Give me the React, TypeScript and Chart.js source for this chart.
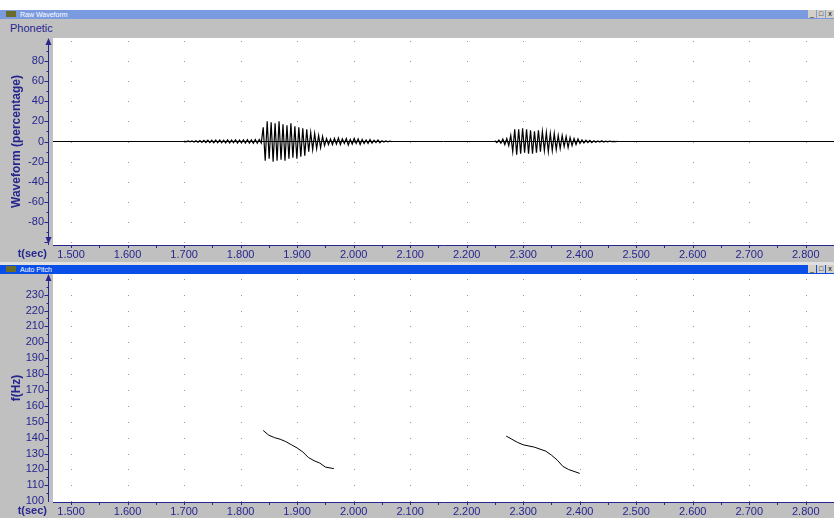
import React, { useEffect, useRef } from "react";
import { Chart, registerables } from "chart.js";
Chart.register(...registerables);

const X_MIN = 1.468;
const X_MAX = 2.85;
const X_TICKS = [1.5, 1.6, 1.7, 1.8, 1.9, 2.0, 2.1, 2.2, 2.3, 2.4, 2.5, 2.6, 2.7, 2.8];
const WAVE_TICKS = [-80, -60, -40, -20, 0, 20, 40, 60, 80];
const PITCH_TICKS = [100, 110, 120, 130, 140, 150, 160, 170, 180, 190, 200, 210, 220, 230];
const SEG1_START = 1.70;
const SEG2_START = 2.25;
const STEP = 0.0035;
const SEG1_VALUES = [
  0.3,-0.3,0.5,-0.4,0.6,-0.5,0.8,-0.7,1,-0.9,1.2,-1,1.3,-1.1,1.2,-1.2,1.4,-1.3,1.5,-1.2,1.3,-1.4,1.6,-1.5,1.4,-1.3,1.7,-1.6,1.5,-1.4,1.6,-1.5,1.8,-1.6,1.5,-1.7,1.9,-1.8,2,-1.5,
  14,-19,20,-17,19,-20,18,-19,20,
  -18,17,-19,16,-17,18,-16,15,-17,14,-15,13,-14,12,
  -10,9,-8,8,-7,6,-6,5,-4,
  3,-3,2.5,-3,3,-2.5,3.5,-3,2.5,-2,3,-3.5,2,-2.5,3,-2,2.5,-3,2,-2,1.5,-2,2,-1.5,1.2,-1,1.5,-1.2,0.8,-0.6,0.5,-0.4,0.3,-0.2,
];
const SEG2_VALUES = [
  0.8,-1,1.5,-1.8,2.5,-3,3,-4,6,
  -10,12,-13,12,-12,13,-11,12,-12,
  11,-12,10,-11,11,-10,10,-9,9,-10,8,-9,8,-8,
  6,-7,6,-5,5,-6,4,-4,3,-3,2.5,
  -2,1.5,-1.5,1.2,-1,1,-1.2,0.8,-0.8,0.6,-0.5,0.8,-0.6,0.4,-0.3,0.3,-0.2,0.2,-0.1,0.1,
];
const PITCH1_T = [1.84,1.85,1.86,1.87,1.88,1.89,1.90,1.91,1.92,1.93,1.94,1.95,1.965];
const PITCH1_F = [144.5,141.5,140,139,137.5,135.5,133.5,131,127.5,125.5,124,121.5,120.5];
const PITCH2_T = [2.27,2.28,2.29,2.30,2.32,2.34,2.35,2.36,2.37,2.38,2.40];
const PITCH2_F = [141,139,137,135.5,134,131.5,129,126,122,120,117.5];

const NAVY = "#26268f";
const GRAY = "#c0c0c0";

const toPts = (start: number, vals: number[]) => vals.map((v, i) => ({ x: start + i * STEP, y: v }));

function chromePlugin(arrowBottom: boolean, step: number) {
  return {
    id: "chrome",
    beforeDraw(c: any) {
      const { ctx, chartArea: a, width, height } = c;
      ctx.save();
      ctx.fillStyle = GRAY;
      ctx.fillRect(0, 0, width, height);
      ctx.fillStyle = "#fff";
      ctx.fillRect(a.left, a.top, a.right - a.left, a.bottom - a.top);
      const xs = c.scales.x, ys = c.scales.y;
      ctx.fillStyle = "#999";
      for (const t of X_TICKS) {
        const px = Math.round(xs.getPixelForValue(t));
        for (let v = Math.ceil(ys.min / step) * step; v <= ys.max; v += step) {
          const py = Math.round(ys.getPixelForValue(v));
          if (py > a.top && py < a.bottom) ctx.fillRect(px, py, 1, 1);
        }
      }
      ctx.restore();
    },
    afterDraw(c: any) {
      const { ctx, chartArea: a } = c;
      const xs = c.scales.x, ys = c.scales.y;
      ctx.save();
      ctx.strokeStyle = NAVY;
      ctx.fillStyle = NAVY;
      ctx.lineWidth = 1;
      const ax = a.left - 4.5;
      ctx.beginPath();
      ctx.moveTo(ax, a.top + 2);
      ctx.lineTo(ax, a.bottom);
      ctx.stroke();
      ctx.beginPath();
      ctx.moveTo(ax, a.top); ctx.lineTo(ax - 3, a.top + 7); ctx.lineTo(ax + 3, a.top + 7); ctx.fill();
      if (arrowBottom) {
        ctx.beginPath();
        ctx.moveTo(ax, a.bottom - 1); ctx.lineTo(ax - 3, a.bottom - 8); ctx.lineTo(ax + 3, a.bottom - 8); ctx.fill();
      }
      const half = step / 2;
      for (let v = Math.ceil(ys.min / half) * half; v <= ys.max; v += half) {
        const py = Math.round(ys.getPixelForValue(v)) + 0.5;
        if (py < a.top + 8 || py > a.bottom - 2) continue;
        const major = Math.round(v / half) % 2 === 0;
        ctx.beginPath(); ctx.moveTo(ax - (major ? 4 : 2), py); ctx.lineTo(ax, py); ctx.stroke();
      }
      ctx.beginPath(); ctx.moveTo(a.left, a.bottom + 0.5); ctx.lineTo(a.right, a.bottom + 0.5); ctx.stroke();
      for (let t = 1.5; t < X_MAX; t += 0.05) {
        const px = Math.round(xs.getPixelForValue(t)) + 0.5;
        ctx.beginPath(); ctx.moveTo(px, a.bottom); ctx.lineTo(px, a.bottom + 3); ctx.stroke();
      }
      ctx.font = "bold 11px 'Liberation Sans', Arial";
      ctx.textAlign = "right";
      ctx.textBaseline = "middle";
      ctx.fillText("t(sec)", 47, a.bottom + 9);
      ctx.restore();
    },
  };
}

function makeOptions(yMin: number, yMax: number, yTicks: number[], title: string, xh: number): any {
  return {
    animation: false,
    responsive: false,
    events: [],
    layout: { padding: { top: 0, right: 0, left: 0, bottom: 0 } },
    plugins: { legend: { display: false }, tooltip: { enabled: false } },
    scales: {
      x: {
        type: "linear", min: X_MIN, max: X_MAX,
        grid: { display: false, drawTicks: false }, border: { display: false },
        ticks: {
          color: NAVY, padding: 3, maxRotation: 0, autoSkip: false,
          font: { family: "'Liberation Sans', Arial", size: 11 },
          callback: (v: number) => v.toFixed(3),
        },
        afterBuildTicks: (s: any) => { s.ticks = X_TICKS.map((v) => ({ value: v })); },
        afterFit: (s: any) => { s.height = xh; s.paddingLeft = 0; s.paddingRight = 0; },
      },
      y: {
        min: yMin, max: yMax,
        grid: { display: false, drawTicks: false }, border: { display: false },
        ticks: {
          color: NAVY, padding: 9,
          font: { family: "'Liberation Sans', Arial", size: 11 },
          callback: (v: number) => String(v),
        },
        afterBuildTicks: (s: any) => { s.ticks = yTicks.map((v) => ({ value: v })); },
        title: { display: true, text: title, color: NAVY, padding: { top: 9, bottom: 0 }, font: { family: "'Liberation Sans', Arial", size: 12, weight: "bold" } },
        afterFit: (s: any) => { s.width = 53; s.paddingTop = 0; s.paddingBottom = 0; },
      },
    },
  };
}

function TitleBar({ text, color, top }: { text: string; color: string; top: number }) {
  return (
    <div style={{ position: "absolute", left: 0, top, width: 834, height: 9, background: color, fontFamily: "'Liberation Sans', Arial", fontSize: 7, color: "#fff", lineHeight: "9px" }}>
      <span style={{ display: "inline-block", width: 10, height: 6, background: "#6b6b2a", margin: "1px 4px 0 6px", verticalAlign: "top" }} />
      {text}
      <div style={{ position: "absolute", right: 0, top: 0, display: "flex", gap: 1 }}>
        {["_", "□", "x"].map((s) => (
          <span key={s} style={{ width: 8, height: 8, background: "#d4d0c8", color: "#000", fontSize: 7, lineHeight: "8px", textAlign: "center" }}>{s}</span>
        ))}
      </div>
    </div>
  );
}

export default function App() {
  const r1 = useRef<HTMLCanvasElement>(null);
  const r2 = useRef<HTMLCanvasElement>(null);
  useEffect(() => {
    document.body.style.margin = "0";
    const c1 = new Chart(r1.current!, {
      type: "line",
      data: {
        datasets: [
          { data: [{ x: X_MIN, y: 0 }, { x: X_MAX, y: 0 }], borderColor: "#000", borderWidth: 1, pointRadius: 0 },
          { data: toPts(SEG1_START, SEG1_VALUES), borderColor: "#000", borderWidth: 1.2, pointRadius: 0 },
          { data: toPts(SEG2_START, SEG2_VALUES), borderColor: "#000", borderWidth: 1.2, pointRadius: 0 },
        ],
      },
      options: makeOptions(-102.5, 102.5, WAVE_TICKS, "Waveform (percentage)", 17),
      plugins: [chromePlugin(true, 20)],
    });
    const c2 = new Chart(r2.current!, {
      type: "line",
      data: {
        datasets: [
          { data: PITCH1_T.map((t, i) => ({ x: t, y: PITCH1_F[i] })), borderColor: "#000", borderWidth: 1, pointRadius: 0 },
          { data: PITCH2_T.map((t, i) => ({ x: t, y: PITCH2_F[i] })), borderColor: "#000", borderWidth: 1, pointRadius: 0 },
        ],
      },
      options: makeOptions(99.5, 243, PITCH_TICKS, "f(Hz)", 16),
      plugins: [chromePlugin(false, 10)],
    });
    return () => { c1.destroy(); c2.destroy(); };
  }, []);
  return (
    <div style={{ position: "relative", width: 834, height: 518, background: "#fff", overflow: "hidden" }}>
      <TitleBar text="Raw Waveform" color="#7b9be0" top={10} />
      <div style={{ position: "absolute", left: 0, top: 19, width: 834, height: 19, background: GRAY }}>
        <div style={{ position: "absolute", left: 0, top: 0, width: 51, height: 19, fontFamily: "'Liberation Sans', Arial", fontSize: 11, color: NAVY, lineHeight: "19px", paddingLeft: 10, boxSizing: "border-box" }}>Phonetic</div>
      </div>
      <canvas ref={r1} width={834} height={224} style={{ position: "absolute", left: 0, top: 38 }} />
      <div style={{ position: "absolute", left: 0, top: 262, width: 834, height: 3, background: "#e0e0e0" }} />
      <TitleBar text="Auto Pitch" color="#0a4ee8" top={265} />
      <canvas ref={r2} width={834} height={244} style={{ position: "absolute", left: 0, top: 274 }} />
    </div>
  );
}
